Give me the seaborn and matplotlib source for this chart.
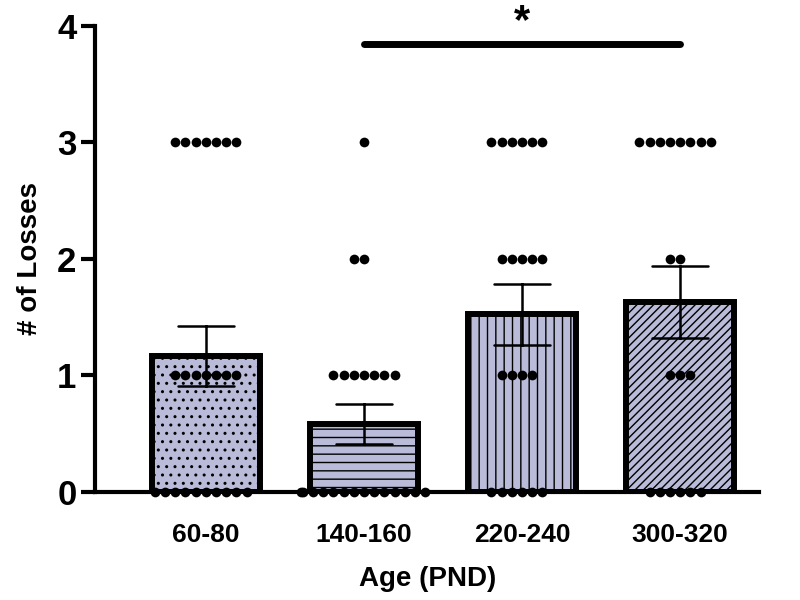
import numpy as np
import pandas as pd
import matplotlib
matplotlib.use("Agg")
import matplotlib.pyplot as plt
import seaborn as sns

# --- data ---
age_groups = ["60-80", "140-160", "220-240", "300-320"]
loss_levels = [0, 1, 2, 3]
# number of animals at each loss level (0, 1, 2, 3) per age group
counts_60_80 = [10, 7, 0, 7]
counts_140_160 = [14, 7, 2, 1]
counts_220_240 = [6, 4, 5, 6]
counts_300_320 = [6, 3, 2, 8]
hatches = ["..", "--", "||", "////"]
sig_label = "*"

all_counts = [counts_60_80, counts_140_160, counts_220_240, counts_300_320]
rows = []
for grp, cnts in zip(age_groups, all_counts):
    for lvl, c in zip(loss_levels, cnts):
        rows += [(grp, lvl)] * c
df = pd.DataFrame(rows, columns=["age", "losses"])

sns.set_style("ticks")
plt.rcParams["font.family"] = ["Liberation Sans", "DejaVu Sans"]
plt.rcParams["font.weight"] = "bold"
plt.rcParams["hatch.linewidth"] = 1.0
for k in ["text.color", "axes.labelcolor", "xtick.color", "ytick.color", "axes.edgecolor"]:
    plt.rcParams[k] = "black"

fig = plt.figure(figsize=(8, 6), dpi=100)
ax = fig.add_axes([0.119, 0.18, 0.83, 0.777])

sns.barplot(data=df, x="age", y="losses", order=age_groups, errorbar="se",
            color="#b9bbd9", saturation=1, width=0.68, edgecolor="black",
            linewidth=4.3, capsize=0.35, err_kws={"color": "black", "linewidth": 1.8},
            ax=ax, zorder=2)
for bar, h in zip(ax.patches, hatches):
    bar.set_hatch(h)

sns.swarmplot(data=df, x="age", y="losses", order=age_groups, color="black",
              size=7, ax=ax, zorder=4, clip_on=False)

# significance bar between 140-160 and 300-320
ax.plot([1, 3], [3.84, 3.84], color="black", linewidth=5, solid_capstyle="round",
        clip_on=False, zorder=5)
ax.text(2, 3.86, sig_label, ha="center", va="bottom", fontsize=30, fontweight="bold")

ax.set_ylim(0, 4)
ax.set_xlim(-0.7, 3.5)
ax.set_yticks([0, 1, 2, 3, 4])
ax.tick_params(axis="y", labelsize=25, width=3, length=10)
ax.tick_params(axis="x", labelsize=19, length=0, pad=22)
for lbl in ax.get_xticklabels() + ax.get_yticklabels():
    lbl.set_fontweight("bold")
ax.set_ylabel("# of Losses", fontsize=20, fontweight="bold", labelpad=10)
ax.set_xlabel("Age (PND)", fontsize=20, fontweight="bold", labelpad=14)
sns.despine(ax=ax)
for s in ["left", "bottom"]:
    ax.spines[s].set_linewidth(3)

fig.savefig("out.png", dpi=100)
